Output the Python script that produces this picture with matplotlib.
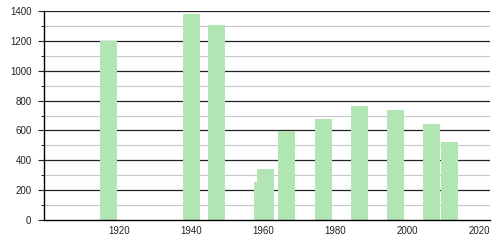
import matplotlib
matplotlib.use("Agg")
import matplotlib.pyplot as plt
from matplotlib.ticker import MultipleLocator

plt.rcParams['font.family'] = ['Liberation Sans', 'DejaVu Sans']

years = [1917, 1940, 1947, 1959.6, 1960.6, 1966.4, 1976.8, 1986.8, 1996.8, 2006.8, 2011.8]
population = [1200, 1380, 1306, 254, 341, 596, 676, 764, 739, 643, 522]
xticks = [1920, 1940, 1960, 1980, 2000, 2020]
yticks = [0, 200, 400, 600, 800, 1000, 1200, 1400]

fig = plt.figure(figsize=(5, 2.4), dpi=100)
ax = fig.add_axes([0.088, 0.083, 0.892, 0.871])

for y in range(100, 1400, 200):
    ax.axhline(y, color="#c8c8c8", lw=0.8, zorder=0)
for y in yticks[1:]:
    ax.axhline(y, color="#222222", lw=0.9, zorder=0)

ax.bar(years, population, width=4.7, color="#b2e5b4", edgecolor="none", zorder=2)

ax.set_xlim(1899, 2023)
ax.set_ylim(0, 1400)
ax.set_xticks(xticks)
ax.set_yticks(yticks)
ax.yaxis.set_minor_locator(MultipleLocator(100))
for s in ["top", "right"]:
    ax.spines[s].set_visible(False)
ax.spines["left"].set_linewidth(1.0)
ax.spines["bottom"].set_linewidth(1.0)
ax.tick_params(axis="x", length=0, labelsize=7, pad=4, colors="#222222")
ax.tick_params(axis="y", which="major", length=4, labelsize=7, pad=5, colors="#222222")
ax.tick_params(axis="y", which="minor", length=2)

fig.savefig("out.png", dpi=100)
